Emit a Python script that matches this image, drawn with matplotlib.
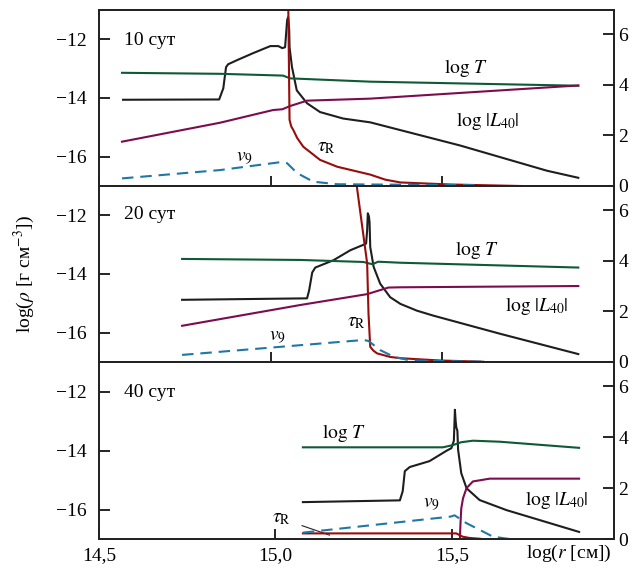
import matplotlib
matplotlib.use("Agg")
import matplotlib.pyplot as plt

plt.rcParams['font.family'] = ['Liberation Serif', 'DejaVu Serif']
plt.rcParams['mathtext.fontset'] = 'stix'

# ---------------- data ----------------
days = ["10 сут", "20 сут", "40 сут"]

# day 10
rho10_x = [14.570, 14.850, 14.862, 14.870, 14.876, 14.902, 14.949, 14.999, 15.022, 15.034, 15.042,
           15.048, 15.051, 15.054, 15.055, 15.062, 15.076, 15.106, 15.144, 15.211, 15.290, 15.552,
           15.805, 15.896]
rho10_y = [-14.06, -14.05, -13.67, -12.95, -12.85, -12.71, -12.47, -12.23, -12.23, -12.30, -12.27,
           -11.34, -11.24, -11.68, -12.27, -12.94, -13.74, -14.18, -14.48, -14.70, -14.83, -15.62,
           -16.48, -16.72]
logT10_x = [14.567, 14.853, 15.036, 15.057, 15.290, 15.896]
logT10_y = [4.47, 4.43, 4.36, 4.25, 4.12, 3.96]
L10_x = [14.567, 14.853, 15.007, 15.034, 15.057, 15.106, 15.290, 15.896]
L10_y = [1.75, 2.50, 3.00, 3.03, 3.16, 3.37, 3.45, 3.97]
tau10_x = [15.051, 15.053, 15.055, 15.060, 15.066, 15.077, 15.095, 15.144, 15.194, 15.290, 15.334,
           15.378, 15.523, 15.727]
tau10_y = [7.5, 5.0, 2.61, 2.35, 2.21, 1.90, 1.55, 1.03, 0.76, 0.45, 0.25, 0.14, 0.06, 0.0]
v10_x = [14.567, 14.853, 15.028, 15.048, 15.077, 15.124, 15.194, 15.290, 15.611]
v10_y = [0.30, 0.63, 0.94, 0.90, 0.51, 0.17, 0.07, 0.06, 0.03]

# day 20
rho20_x = [14.742, 15.106, 15.112, 15.121, 15.130, 15.183, 15.232, 15.271, 15.278, 15.281, 15.283,
           15.286, 15.288, 15.290, 15.300, 15.319, 15.348, 15.378, 15.426, 15.474, 15.669, 15.896]
rho20_y = [-14.88, -14.83, -14.56, -13.95, -13.78, -13.53, -13.19, -13.00, -12.96, -12.51, -11.93,
           -12.03, -12.23, -13.08, -13.76, -14.33, -14.79, -15.02, -15.25, -15.42, -16.04, -16.73]
logT20_x = [14.742, 15.086, 15.270, 15.296, 15.313, 15.378, 15.896]
logT20_y = [4.07, 4.03, 3.95, 3.86, 3.96, 3.92, 3.73]
L20_x = [14.742, 15.086, 15.281, 15.343, 15.378, 15.896]
L20_y = [1.43, 2.25, 2.68, 2.94, 2.95, 3.00]
tau20_x = [15.249, 15.251, 15.281, 15.285, 15.290, 15.299, 15.310, 15.348, 15.378, 15.493, 15.619]
tau20_y = [7.3, 6.93, 3.90, 1.90, 0.60, 0.45, 0.34, 0.20, 0.15, 0.06, 0.01]
v20_x = [14.742, 15.271, 15.285, 15.319, 15.358, 15.406, 15.620]
v20_y = [0.28, 0.87, 0.83, 0.47, 0.21, 0.06, 0.01]

# day 40
rho40_x = [15.078, 15.353, 15.361, 15.367, 15.381, 15.437, 15.485, 15.499, 15.506, 15.509, 15.511,
           15.513, 15.516, 15.518, 15.527, 15.542, 15.579, 15.655, 15.861]
rho40_y = [-15.75, -15.69, -15.38, -14.70, -14.56, -14.36, -14.01, -13.92, -13.67, -12.62, -12.99,
           -13.22, -13.33, -13.97, -14.77, -15.28, -15.68, -16.02, -16.76]
logT40_x = [15.078, 15.475, 15.504, 15.527, 15.560, 15.636, 15.861]
logT40_y = [3.60, 3.60, 3.69, 3.80, 3.86, 3.82, 3.58]
L40_x = [15.523, 15.525, 15.527, 15.532, 15.542, 15.560, 15.608, 15.861]
L40_y = [0.0, 0.67, 1.20, 1.60, 2.00, 2.26, 2.37, 2.37]
tau40_x = [15.078, 15.513, 15.531, 15.551, 15.580]
tau40_y = [0.22, 0.22, 0.09, 0.04, 0.01]
v40_x = [15.078, 15.497, 15.508, 15.542, 15.589, 15.617, 15.664]
v40_y = [0.25, 0.88, 0.93, 0.62, 0.29, 0.09, 0.0]

xticks = [14.5, 15.0, 15.5]
xtick_labels = ["14,5", "15,0", "15,5"]
left_ticks = [-16, -14, -12]
left_labels = ["\u221216", "\u221214", "\u221212"]
right_ticks = [0, 2, 4, 6]
right_labels = ["0", "2", "4", "6"]

# ---------------- style ----------------
C_RHO = "#1e1e1e"
C_T = "#0d5a34"
C_L = "#7c0c4e"
C_TAU = "#980c0c"
C_V = "#1f78a4"
LW = 1.5
FS = 14

fig = plt.figure(figsize=(6.39, 5.81), dpi=100)
W, H = 639.0, 581.0
left = 99 / W
width = (614 - 99) / W
panels = [(10, 186), (186, 362), (362, 539)]
xlims = [(14.5, 16.0), (14.5, 16.0), (14.5, 15.96)]

panel_data = [
    (rho10_x, rho10_y, logT10_x, logT10_y, L10_x, L10_y, tau10_x, tau10_y, v10_x, v10_y),
    (rho20_x, rho20_y, logT20_x, logT20_y, L20_x, L20_y, tau20_x, tau20_y, v20_x, v20_y),
    (rho40_x, rho40_y, logT40_x, logT40_y, L40_x, L40_y, tau40_x, tau40_y, v40_x, v40_y),
]

# label positions (data coords on left axis)
label_pos = [
    dict(day=(14.573, -12.03), T=(15.570, -12.99), L=(15.631, -14.80), tau=(15.162, -15.69), v=(14.923, -16.07)),
    dict(day=(14.573, -11.96), T=(15.602, -13.19), L=(15.774, -15.08), tau=(15.249, -15.66), v=(15.019, -16.17)),
    dict(day=(14.570, -12.03), T=(15.194, -13.40), L=(15.798, -15.69), tau=(15.018, -16.31), v=(15.443, -15.83)),
]

for i, ((ytop, ybot), d) in enumerate(zip(panels, panel_data)):
    ax = fig.add_axes([left, (H - ybot) / H, width, (ybot - ytop) / H])
    axr = ax.twinx()
    rx, ry, tx, ty, lx, ly, taux, tauy, vx, vy = d
    ax.plot(rx, ry, color=C_RHO, lw=LW, solid_joinstyle='round', zorder=3)
    axr.plot(tx, ty, color=C_T, lw=LW)
    axr.plot(lx, ly, color=C_L, lw=LW)
    axr.plot(taux, tauy, color=C_TAU, lw=LW)
    axr.plot(vx, vy, color=C_V, lw=LW, linestyle=(0, (5.5, 3.3)))

    ax.set_xlim(*xlims[i])
    ax.set_ylim(-17, -11)
    axr.set_ylim(0, 6.95)

    ax.set_xticks(xticks)
    if i == 2:
        ax.set_xticklabels(xtick_labels)
    else:
        ax.set_xticklabels([])
    ax.set_yticks(left_ticks)
    ax.set_yticklabels(left_labels)
    axr.set_yticks(right_ticks)
    axr.set_yticklabels(right_labels)

    ax.tick_params(axis='x', direction='in', length=7, width=1.2, labelsize=FS, pad=6, top=False)
    ax.tick_params(axis='y', direction='in', length=8, width=1.2, labelsize=FS, pad=9, right=False)
    axr.tick_params(axis='y', direction='in', length=8, width=1.2, labelsize=FS, pad=3)
    for a in (ax, axr):
        for s in a.spines.values():
            s.set_linewidth(1.3)
            s.set_color("#222222")

    lp = label_pos[i]
    ax.text(*lp['day'], days[i], fontsize=FS, ha='left', va='center')
    ax.text(*lp['T'], r"$\log\,T$", fontsize=FS, ha='center', va='center')
    ax.text(*lp['L'], r"$\log\,|L_{40}|$", fontsize=FS, ha='center', va='center')
    ax.text(*lp['v'], r"$v_9$", fontsize=FS, ha='center', va='center')
    if i == 2:
        ax.annotate(r"$\tau_\mathrm{R}$", xy=(15.154, -16.87), xytext=lp['tau'],
                    fontsize=FS, ha='center', va='center',
                    arrowprops=dict(arrowstyle='-', color='#222222', lw=0.8,
                                    shrinkA=6, shrinkB=0))
    else:
        ax.text(*lp['tau'], r"$\tau_\mathrm{R}$", fontsize=FS, ha='center', va='center')

fig.text(24 / W, 1 - 274 / H, r"log($\rho$ [г см$^{-3}$])", rotation=90,
         fontsize=FS, ha='center', va='center')
fig.text(612 / W, 1 - 553 / H, r"log($r$ [см])", fontsize=FS, ha='right', va='center')

fig.savefig("out.png", dpi=100)
